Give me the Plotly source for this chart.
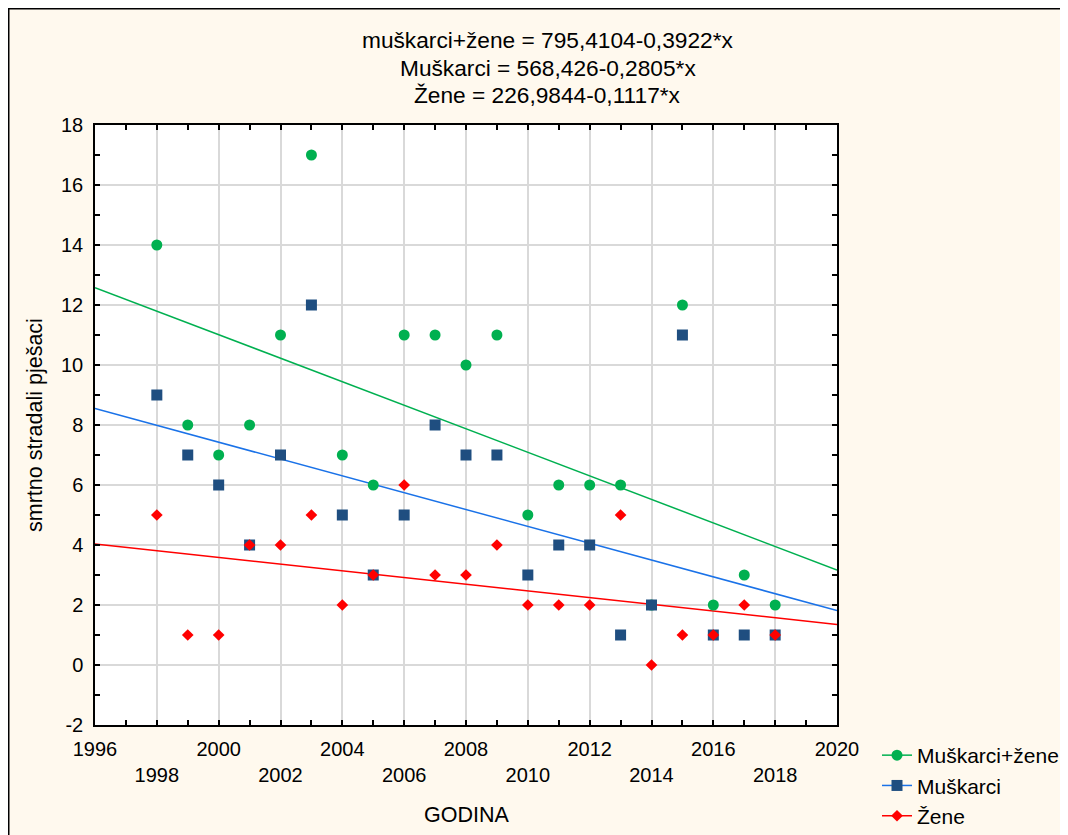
import plotly.graph_objects as go

# ---- data ----
years = [1998, 1999, 2000, 2001, 2002, 2003, 2004, 2005, 2006, 2007, 2008,
         2009, 2010, 2011, 2012, 2013, 2014, 2015, 2016, 2017, 2018]
ukupno = [14, 8, 7, 8, 11, 17, 7, 6, 11, 11, 10, 11, 5, 6, 6, 6, 2, 12, 2, 3, 2]
muskarci = [9, 7, 6, 4, 7, 12, 5, 3, 5, 8, 7, 7, 3, 4, 4, 1, 2, 11, 1, 1, 1]
zene = [5, 1, 1, 4, 4, 5, 2, 3, 6, 3, 3, 4, 2, 2, 2, 5, 0, 1, 1, 2, 1]

# regression coefficients (intercept, slope) as printed on the chart
coef_ukupno = (795.4104, -0.3922)
coef_muskarci = (568.426, -0.2805)
coef_zene = (226.9844, -0.1117)
line_x = [1996, 2020]

x_tickvals = list(range(1996, 2021, 2))
x_ticktext = [str(v) if (v - 1996) % 4 == 0 else " <br>" + str(v) for v in x_tickvals]
y_tickvals = list(range(-2, 19, 2))
y_ticktext = [str(v) for v in y_tickvals]

title_lines = ["muškarci+žene = 795,4104-0,3922*x",
               "Muškarci = 568,426-0,2805*x",
               "Žene = 226,9844-0,1117*x"]

GREEN = "#00B050"
BLUE_M = "#1F4E80"
BLUE_L = "#1A72E8"
RED = "#FF0000"
FONT = "Liberation Sans, Arial, sans-serif"

# layout geometry (figure pixels)
W, H = 1068, 835
PL, PR, PT, PB = 87, 829, 117, 717
PW, PH = PR - PL, PB - PT

def px_x(x):
    return (x - PL) / PW

def px_y(y):
    return (PB - y) / PH

fig = go.Figure()

def reg(c):
    return [c[0] + c[1] * x for x in line_x]

series = [
    ("Muškarci+žene", ukupno, coef_ukupno, GREEN, GREEN, "circle", 11),
    ("Muškarci", muskarci, coef_muskarci, BLUE_L, BLUE_M, "square", 11),
    ("Žene", zene, coef_zene, RED, RED, "diamond", 9),
]

for name, vals, c, lc, mc, sym, sz in series:
    fig.add_trace(go.Scatter(x=line_x, y=reg(c), mode="lines",
                             line=dict(color=lc, width=1.5),
                             showlegend=False, hoverinfo="skip"))
for name, vals, c, lc, mc, sym, sz in series:
    fig.add_trace(go.Scatter(x=years, y=vals, mode="markers",
                             marker=dict(color=mc, symbol=sym, size=sz, line=dict(width=0)),
                             showlegend=False, name=name))
for name, vals, c, lc, mc, sym, sz in series:
    fig.add_trace(go.Scatter(x=[None], y=[None], mode="lines+markers", name=name,
                             line=dict(color=lc, width=1.5),
                             marker=dict(color=mc, symbol=sym, size=sz)))

axis_common = dict(
    showline=True, linecolor="black", linewidth=1.5, mirror="allticks",
    ticks="inside", ticklen=5, tickcolor="black", tickwidth=1.5,
    showgrid=True, gridcolor="#D9D9D9", gridwidth=1.5, zeroline=False,
    tickfont=dict(family=FONT, size=20, color="black"), automargin=False,
)

fig.update_xaxes(range=[1996, 2020], tickmode="array", tickvals=x_tickvals,
                 ticktext=x_ticktext, ticklabelstandoff=5,
                 minor=dict(dtick=1, tick0=1996, ticks="inside", ticklen=5,
                            tickcolor="black", tickwidth=1.5, showgrid=False),
                 **axis_common)
fig.update_yaxes(range=[-2, 18], tickmode="array", tickvals=y_tickvals,
                 ticktext=y_ticktext, ticklabelstandoff=6,
                 minor=dict(dtick=1, tick0=0, ticks="inside", ticklen=5,
                            tickcolor="black", tickwidth=1.5, showgrid=False),
                 **axis_common)

# title lines
for line, yc in zip(title_lines, [32, 60, 87]):
    fig.add_annotation(text=line, xref="paper", yref="paper",
                       x=px_x(539.5), y=px_y(yc), xanchor="center", yanchor="middle",
                       showarrow=False, font=dict(family=FONT, size=22.7, color="black"))

# axis titles
fig.add_annotation(text="GODINA", xref="paper", yref="paper",
                   x=px_x(458), y=px_y(807), xanchor="center", yanchor="middle",
                   showarrow=False, font=dict(family=FONT, size=21.5, color="black"))
fig.add_annotation(text="smrtno stradali pješaci", xref="paper", yref="paper",
                   x=px_x(27), y=px_y(417), xanchor="center", yanchor="middle",
                   textangle=-90, showarrow=False,
                   font=dict(family=FONT, size=21.5, color="black"))

# outer frame (left and top border)
fig.add_shape(type="rect", xref="paper", yref="paper",
              x0=px_x(0.5), x1=px_x(1200),
              y0=px_y(1000), y1=px_y(0.5),
              line=dict(color="black", width=2), fillcolor="rgba(0,0,0,0)", layer="below")

fig.update_layout(
    width=W, height=H,
    margin=dict(l=PL, r=W - PR, t=PT, b=H - PB, autoexpand=False),
    paper_bgcolor="#FFF9EE", plot_bgcolor="white",
    font=dict(family=FONT, size=20, color="black"),
    legend=dict(xref="container", yref="container",
                x=869 / W, y=1 - 727 / H, xanchor="left", yanchor="top",
                bgcolor="rgba(0,0,0,0)", font=dict(family=FONT, size=21, color="black"),
                itemwidth=30, tracegroupgap=0),
    showlegend=True,
)

fig.write_html("out.html")
